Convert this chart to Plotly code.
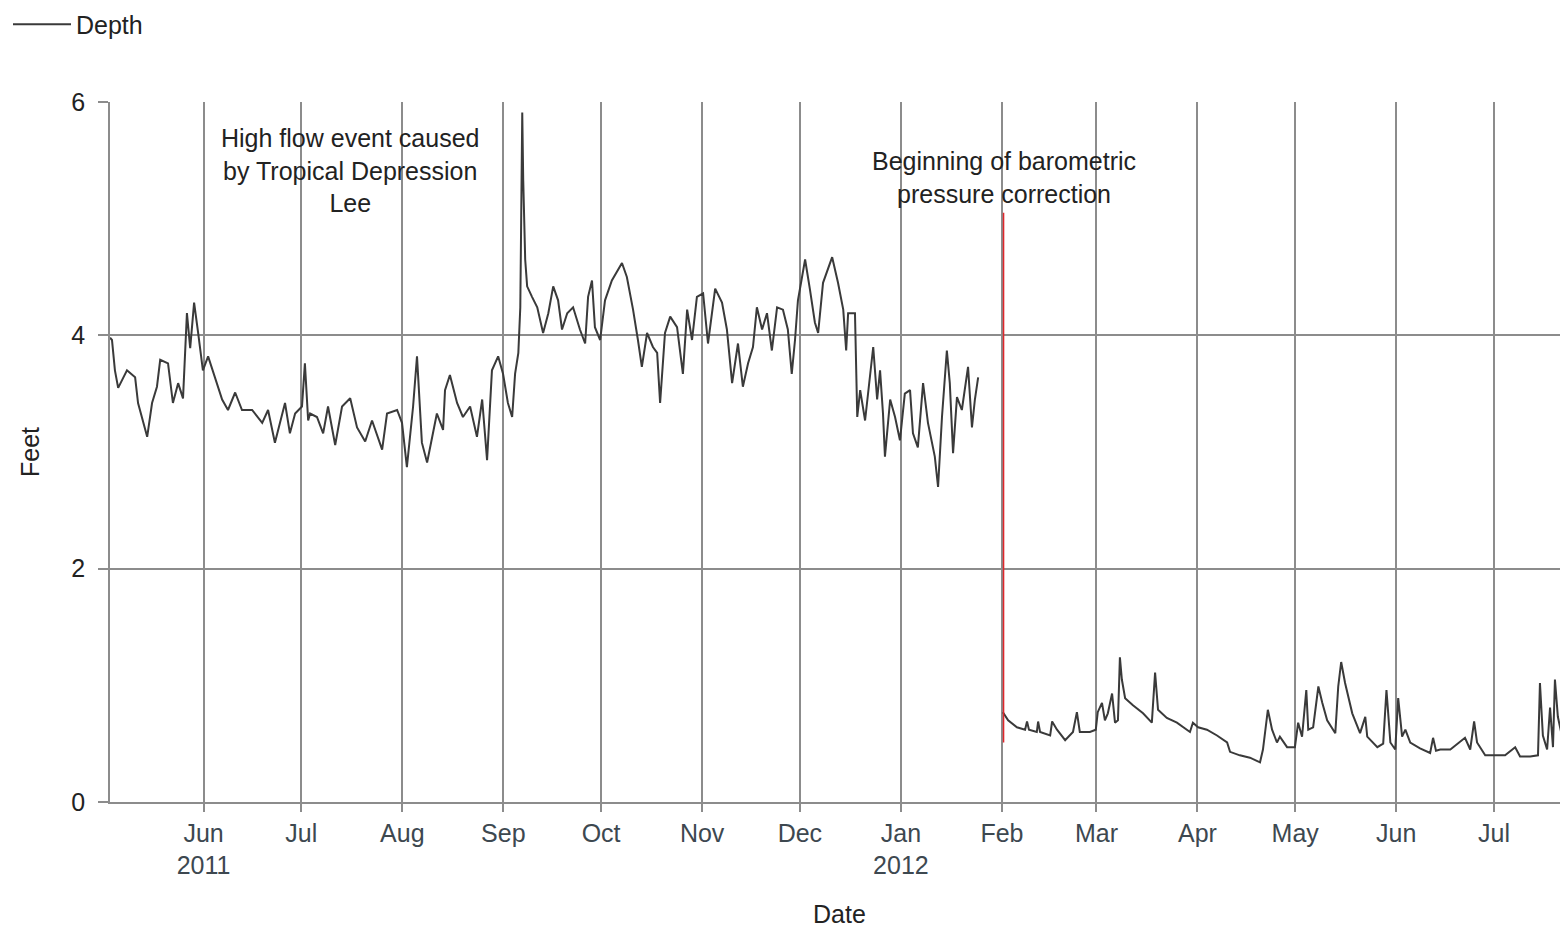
import pandas as pd
import plotly.graph_objects as go

# Reference date for the day offsets below
t0 = "2011-06-01"

# Segment 1 (before barometric correction): days since t0, depth in feet
day_1 = [-28.7, -28.1, -27.2, -26.2, -23.5, -21.0, -20.1, -17.3, -15.8, -14.3, -13.3, -10.9,
         -9.4, -7.8, -6.3, -5.1, -4.1, -2.9, -1.7, -0.2, 1.4, 3.5, 5.7, 7.5, 9.7, 11.8, 14.9,
         18.0, 19.8, 21.9, 25.0, 26.5, 28.1, 30.2, 31.1, 32.1, 32.7, 34.8, 36.7, 38.2, 40.4,
         42.5, 45.0, 47.1, 49.6, 51.7, 54.8, 56.3, 59.4, 60.9, 62.4, 64.3, 65.5, 67.0, 68.6,
         71.6, 73.5, 74.1, 75.6, 77.8, 79.6, 81.8, 83.9, 85.5, 87.0, 88.5, 90.4, 91.9, 93.4,
         94.7, 95.6, 96.6, 97.2, 97.8, 98.1, 98.7, 99.3, 100.8, 102.4, 104.2, 105.8, 107.3,
         108.8, 110.0, 111.6, 113.4, 115.5, 117.1, 118.0, 119.2, 120.1, 121.7, 123.2, 125.3,
         128.4, 129.9, 131.8, 133.3, 134.5, 136.1, 137.9, 139.2, 140.1, 141.6, 143.2, 145.3,
         147.1, 148.4, 149.9, 151.4, 153.3, 154.8, 157.0, 159.1, 160.6, 162.2, 164.0, 165.5,
         167.1, 168.6, 169.8, 171.4, 172.9, 174.4, 176.0, 177.8, 179.3, 180.5, 181.5, 182.4,
         184.6, 186.1, 187.6, 188.6, 190.1, 192.9, 194.7, 196.3, 197.2, 197.8, 199.3, 199.9,
         200.6, 201.5, 203.0, 204.5, 205.5, 206.7, 207.6, 208.5, 209.1, 210.7, 212.2, 213.7,
         215.2, 216.8, 217.7, 219.2, 220.8, 222.3, 223.5, 224.4, 225.4, 226.6, 228.1, 229.0,
         230.0, 231.2, 232.7, 233.6, 234.6, 235.8, 236.7, 237.7]
depth_1 = [3.98, 3.96, 3.70, 3.55, 3.70, 3.64, 3.42, 3.13, 3.42, 3.56, 3.79, 3.76,
           3.42, 3.59, 3.46, 4.19, 3.89, 4.28, 4.03, 3.70, 3.82, 3.64, 3.45, 3.36, 3.51, 3.36, 3.36,
           3.25, 3.36, 3.08, 3.42, 3.16, 3.33, 3.39, 3.76, 3.27, 3.33, 3.30, 3.16, 3.39, 3.06,
           3.39, 3.46, 3.21, 3.09, 3.27, 3.02, 3.33, 3.36, 3.25, 2.87, 3.39, 3.82, 3.08, 2.91,
           3.33, 3.19, 3.53, 3.66, 3.42, 3.30, 3.39, 3.13, 3.45, 2.93, 3.70, 3.82, 3.67, 3.42,
           3.30, 3.67, 3.85, 4.24, 5.91, 5.33, 4.65, 4.42, 4.33, 4.24, 4.02, 4.19, 4.42,
           4.30, 4.05, 4.19, 4.24, 4.05, 3.93, 4.33, 4.47, 4.07, 3.96, 4.30, 4.47,
           4.62, 4.50, 4.22, 3.96, 3.73, 4.02, 3.90, 3.85, 3.42, 4.02, 4.16, 4.07,
           3.67, 4.22, 3.96, 4.33, 4.36, 3.93, 4.40, 4.28, 4.05, 3.59, 3.93, 3.56,
           3.76, 3.90, 4.24, 4.05, 4.19, 3.87, 4.24, 4.22, 4.05, 3.67, 3.96, 4.30,
           4.65, 4.39, 4.11, 4.02, 4.45, 4.67, 4.45, 4.22, 3.87, 4.19, 4.19, 4.19,
           3.30, 3.53, 3.27, 3.67, 3.90, 3.45, 3.70, 3.33, 2.96, 3.45, 3.30, 3.10,
           3.50, 3.53, 3.16, 3.04, 3.59, 3.25, 3.10, 2.96, 2.70, 3.30, 3.87, 3.59,
           2.99, 3.47, 3.36, 3.53, 3.73, 3.21, 3.45, 3.64]

# Segment 2 (after barometric correction)
day_2 = [245.3, 246.9, 249.6, 252.1, 252.7, 253.3, 255.7, 256.1, 256.7, 259.8, 260.4, 261.9,
         264.4, 266.8, 268.0, 268.9, 272.0, 273.8, 274.4, 275.7, 276.6, 277.5, 278.8, 279.7,
         280.6, 281.2, 281.8, 282.8, 285.2, 288.3, 291.0, 292.0, 292.9, 295.6, 298.7, 301.8,
         302.7, 303.6, 305.2, 307.9, 311.0, 314.1, 315.0, 318.0, 321.1, 324.2, 325.1, 326.6,
         327.9, 329.4, 330.3, 332.5, 334.9, 335.9, 337.1, 338.4, 339.0, 340.5, 342.1, 343.3,
         344.8, 347.3, 348.2, 349.1, 350.3, 352.5, 354.9, 356.5, 357.1, 360.2, 362.0, 363.0,
         364.2, 365.7, 366.6, 367.8, 368.8, 370.3, 373.3, 376.4, 377.3, 378.2, 379.5, 382.6,
         387.1, 388.7, 389.9, 390.8, 393.3, 396.3, 399.4, 402.5, 404.0, 407.1, 409.5, 410.1,
         411.0, 412.3, 413.2, 414.1, 414.7, 415.6, 417.1, 418.7]
depth_2 = [0.77, 0.70, 0.64, 0.62, 0.69, 0.62, 0.60, 0.69, 0.60, 0.57, 0.69, 0.62,
           0.53, 0.60, 0.77, 0.60, 0.60, 0.62, 0.77, 0.85, 0.70, 0.76, 0.93, 0.68,
           0.70, 1.24, 1.05, 0.89, 0.83, 0.76, 0.68, 1.11, 0.79, 0.72, 0.68, 0.62,
           0.60, 0.68, 0.64, 0.62, 0.57, 0.51, 0.43, 0.40, 0.38, 0.34, 0.45, 0.79,
           0.62, 0.51, 0.56, 0.47, 0.47, 0.68, 0.56, 0.96, 0.62, 0.64, 0.99, 0.85,
           0.70, 0.59, 0.99, 1.20, 1.02, 0.76, 0.59, 0.73, 0.56, 0.47, 0.50, 0.96,
           0.51, 0.45, 0.89, 0.56, 0.62, 0.51, 0.46, 0.42, 0.55, 0.44, 0.45, 0.45,
           0.55, 0.45, 0.69, 0.51, 0.40, 0.40, 0.40, 0.47, 0.39, 0.39, 0.40, 1.02,
           0.57, 0.45, 0.81, 0.47, 1.05, 0.73, 0.53, 0.51]

# Axis ticks
tick_dates = ["2011-06-01", "2011-07-01", "2011-08-01", "2011-09-01", "2011-10-01",
              "2011-11-01", "2011-12-01", "2012-01-01", "2012-02-01", "2012-03-01",
              "2012-04-01", "2012-05-01", "2012-06-01", "2012-07-01"]
tick_labels = ["Jun<br>2011", "Jul", "Aug", "Sep", "Oct", "Nov", "Dec", "Jan<br>2012",
               "Feb", "Mar", "Apr", "May", "Jun", "Jul"]
x_range = ["2011-05-03 07:00", "2012-07-23 17:00"]
y_ticks = [0, 2, 4, 6]

# Text
x_title = "Date"
y_title = "Feet"
lee_date = "2011-07-16"
lee_text = "High flow event caused<br>by Tropical Depression<br>Lee"
baro_date = "2012-02-01 12:00"
baro_text = "Beginning of barometric<br>pressure correction"
baro_line_y = [0.51, 5.05]

base = pd.Timestamp(t0)
x1 = [base + pd.Timedelta(days=d) for d in day_1]
x2 = [base + pd.Timedelta(days=d) for d in day_2]
xs = x1 + [None] + x2
ys = depth_1 + [None] + depth_2

FONT = "Liberation Sans, Arial, sans-serif"
GRID = "#8c8c8c"
FS = 25

fig = go.Figure()
fig.add_trace(go.Scatter(x=xs, y=ys, mode="lines", name="Depth",
                         line=dict(color="#3a3a3a", width=2), connectgaps=False))

fig.add_shape(type="line", xref="x", yref="y", x0=baro_date, x1=baro_date,
              y0=baro_line_y[0], y1=baro_line_y[1], line=dict(color="#e0262a", width=1.5))

fig.add_annotation(x=lee_date, y=5.0, xref="x", yref="y", text=lee_text, showarrow=False,
                   yanchor="bottom", xanchor="center", align="center",
                   font=dict(size=FS, color="#222", family=FONT))
fig.add_annotation(x=baro_date, y=5.05, xref="x", yref="y", text=baro_text, showarrow=False,
                   yanchor="bottom", xanchor="center", align="center", yshift=3,
                   font=dict(size=FS, color="#222", family=FONT))
# Axis titles
fig.add_annotation(x=0.5, y=0, xref="paper", yref="paper", text=x_title, showarrow=False,
                   xanchor="center", yanchor="middle", yshift=-112,
                   font=dict(size=FS, color="#222", family=FONT))
fig.add_annotation(x=0, y=0.5, xref="paper", yref="paper", text=y_title, showarrow=False,
                   xanchor="center", yanchor="middle", xshift=-80, textangle=-90,
                   font=dict(size=FS, color="#222", family=FONT))

fig.update_layout(
    width=1560, height=920,
    margin=dict(l=102, r=0, t=94, b=126, autoexpand=False),
    paper_bgcolor="white", plot_bgcolor="white",
    font=dict(family=FONT, size=FS, color="#222"),
    showlegend=True,
    legend=dict(xref="container", yref="container", x=0.0, y=0.982, xanchor="left",
                yanchor="middle", font=dict(size=FS, color="#222"),
                bgcolor="rgba(0,0,0,0)", itemwidth=58),
    xaxis=dict(range=x_range, type="date", tickvals=tick_dates, ticktext=tick_labels,
               showgrid=True, gridcolor=GRID, gridwidth=1.5,
               showline=True, linecolor=GRID, linewidth=1.5,
               ticks="outside", ticklen=8, tickcolor=GRID, tickwidth=1.5,
               tickfont=dict(size=FS, color="#3d4850"),
               zeroline=False),
    yaxis=dict(range=[0, 6], tickvals=y_ticks, showgrid=True, gridcolor=GRID, gridwidth=1.5,
               showline=True, linecolor=GRID, linewidth=1.5,
               ticks="outside", ticklen=10, tickcolor=GRID, tickwidth=1.5,
               ticklabelstandoff=8,
               tickfont=dict(size=FS, color="#222"),
               zeroline=False),
)

fig.write_html("out.html")
